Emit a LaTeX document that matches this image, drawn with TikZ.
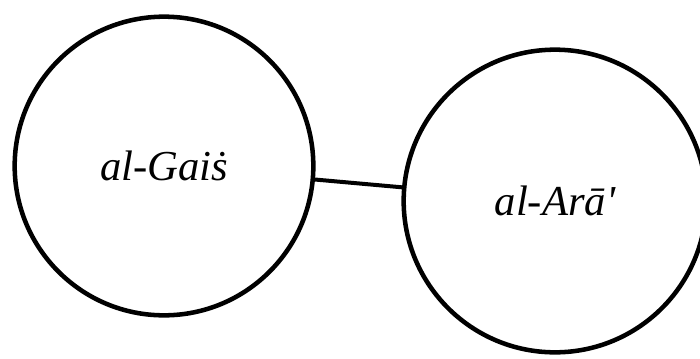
\documentclass[tikz,border=0pt]{standalone}
\usepackage{fontspec}
\setmainfont{Liberation Serif}
\begin{document}
\begin{tikzpicture}[x=0.75pt,y=-0.75pt,
  place/.style={circle,draw=black,line width=3.4pt,fill=white,inner sep=0pt,font=\fontsize{32}{35}\selectfont\itshape},
  link/.style={line width=3pt,draw=black}]
\useasboundingbox (0,0) rectangle (700,358);
\clip (0,0) rectangle (700,358);
\node[place,minimum size=224pt] (g) at (164,166) {al-Gaiṡ};
\node[place,minimum size=227pt] (a) at (555,201) {al-Arā\textquotesingle};
\draw[link] (g) -- (a);
\end{tikzpicture}
\end{document}
